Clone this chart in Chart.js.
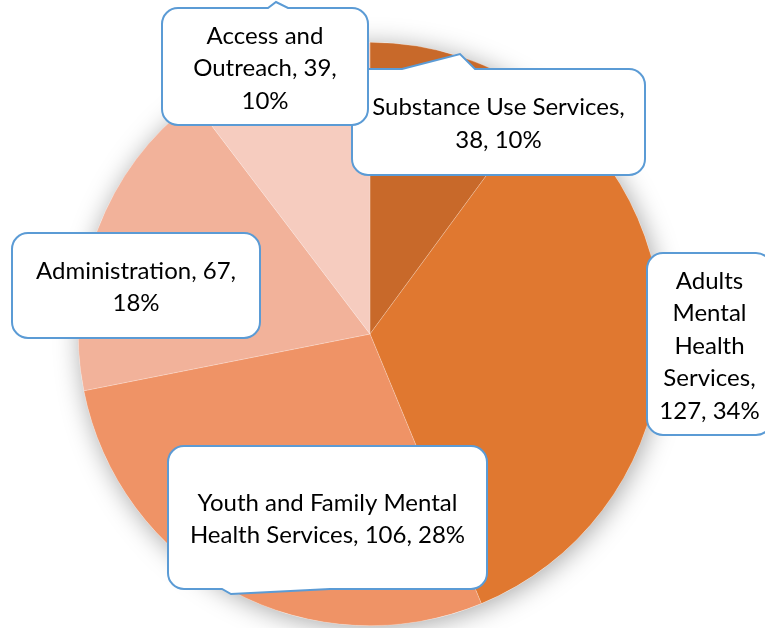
<!DOCTYPE html>
<html>
<head>
<meta charset="utf-8">
<script src="https://cdn.jsdelivr.net/npm/chart.js@4/dist/chart.umd.min.js"></script>
<style>
  html, body { margin: 0; padding: 0; background: #ffffff; }
  #wrap { width: 765px; height: 628px; }
</style>
</head>
<body>
<div id="wrap"><canvas id="c" width="765" height="628"></canvas></div>
<script>
// Program budget by service area
const categories = [
  'Substance Use Services',
  'Adults Mental Health Services',
  'Youth and Family Mental Health Services',
  'Administration',
  'Access and Outreach'
];
const budgetValues = [38, 127, 106, 67, 39];
const sliceColors = ['#C8692A', '#E07830', '#EF9366', '#F2B29A', '#F6CCBF'];

// Callout boxes: box rectangle, words per line, optional tail point
const calloutBoxes = [
  { idx: 3, x: 12,  y: 233, w: 248, h: 105, lines: [2, 1], tail: null },
  { idx: 2, x: 168, y: 446, w: 319, h: 143, lines: [4, 4], tail: { side: 'bottom', from: 222, to: 330, px: 231, py: 594 } },
  { idx: 1, x: 647, y: 253, w: 125, h: 182, lines: [1, 1, 1, 1, 2], tail: null },
  { idx: 0, x: 352, y: 69,  w: 293, h: 106, lines: [3, 2], tail: { side: 'top', from: 402, to: 475, px: 460, py: 54 } },
  { idx: 4, x: 162, y: 8,   w: 206, h: 117, lines: [2, 2, 1], tail: { side: 'top', from: 268, to: 288, px: 276, py: 2 } }
];

const FONT = '24px Lato, "Open Sans", sans-serif';
const LINE_H = 32.5;

const total = budgetValues.reduce((a, b) => a + b, 0);

function calloutText(i) {
  const pct = Math.round(budgetValues[i] / total * 100);
  return (categories[i] + ', ' + budgetValues[i] + ', ' + pct + '%').split(' ');
}

function roundedPath(ctx, b, r) {
  const x = b.x, y = b.y, w = b.w, h = b.h, t = b.tail;
  ctx.beginPath();
  ctx.moveTo(x + r, y);
  if (t && t.side === 'top') {
    ctx.lineTo(t.from, y);
    ctx.lineTo(t.px, t.py);
    ctx.lineTo(t.to, y);
  }
  ctx.lineTo(x + w - r, y);
  ctx.arcTo(x + w, y, x + w, y + r, r);
  ctx.lineTo(x + w, y + h - r);
  ctx.arcTo(x + w, y + h, x + w - r, y + h, r);
  if (t && t.side === 'bottom') {
    ctx.lineTo(t.to, y + h);
    ctx.lineTo(t.px, t.py);
    ctx.lineTo(t.from, y + h);
  }
  ctx.lineTo(x + r, y + h);
  ctx.arcTo(x, y + h, x, y + h - r, r);
  ctx.lineTo(x, y + r);
  ctx.arcTo(x, y, x + r, y, r);
  ctx.closePath();
}

// Soft shadow behind the whole pie
const pieShadow = {
  id: 'pieShadow',
  beforeDatasetsDraw(chart) {
    const arc = chart.getDatasetMeta(0).data[0];
    if (!arc) return;
    const ctx = chart.ctx;
    ctx.save();
    ctx.shadowColor = 'rgba(0,0,0,0.35)';
    ctx.shadowBlur = 26;
    ctx.shadowOffsetX = 2;
    ctx.shadowOffsetY = 3;
    ctx.fillStyle = '#ffffff';
    ctx.beginPath();
    ctx.arc(arc.x, arc.y, arc.outerRadius, 0, Math.PI * 2);
    ctx.fill();
    ctx.restore();
  }
};

// Data callouts drawn over the pie
const callouts = {
  id: 'callouts',
  afterDatasetsDraw(chart) {
    const ctx = chart.ctx;
    ctx.save();
    calloutBoxes.forEach(b => {
      roundedPath(ctx, b, 16);
      ctx.fillStyle = '#ffffff';
      ctx.fill();
      ctx.lineWidth = 2;
      ctx.strokeStyle = '#5B9BD5';
      ctx.stroke();

      const words = calloutText(b.idx);
      const lines = [];
      let k = 0;
      b.lines.forEach(n => { lines.push(words.slice(k, k + n).join(' ')); k += n; });
      ctx.fillStyle = '#000000';
      ctx.font = FONT;
      ctx.textAlign = 'center';
      ctx.textBaseline = 'middle';
      const cx = b.x + b.w / 2;
      const cy = b.y + b.h / 2 + 2;
      const y0 = cy - (lines.length - 1) * LINE_H / 2;
      lines.forEach((s, j) => ctx.fillText(s, cx, y0 + j * LINE_H));
    });
    ctx.restore();
  }
};

new Chart(document.getElementById('c'), {
  type: 'pie',
  data: {
    labels: categories,
    datasets: [{
      data: budgetValues,
      backgroundColor: sliceColors,
      borderColor: 'rgba(255,255,255,0.35)',
      borderWidth: 0.6
    }]
  },
  options: {
    responsive: false,
    animation: false,
    rotation: 0,
    layout: { padding: { left: 0, right: 25, top: 42, bottom: 2 } },
    plugins: {
      legend: { display: false },
      tooltip: { enabled: false }
    }
  },
  plugins: [pieShadow, callouts]
});
</script>
</body>
</html>
